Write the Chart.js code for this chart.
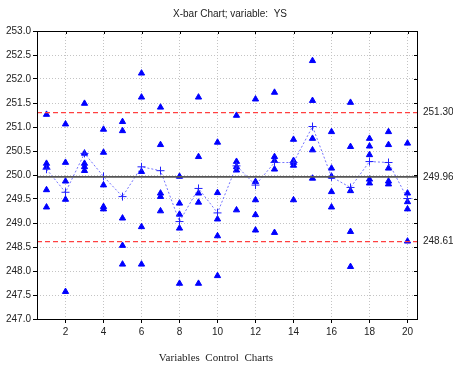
<!DOCTYPE html>
<html>
<head>
<meta charset="utf-8">
<script src="https://cdn.jsdelivr.net/npm/chart.js@4"></script>
<style>
  html, body { margin: 0; padding: 0; background: #fff; }
  #wrap { width: 453px; height: 367px; }
</style>
</head>
<body>
<div id="wrap"><canvas id="chart-xbar"></canvas></div>
<script>
// datos
const muestras = [1, 2, 3, 4, 5, 6, 7, 8, 9, 10, 11, 12, 13, 14, 15, 16, 17, 18, 19, 20];

const observaciones = [
    [251.26, 250.24, 250.17, 249.69, 249.33],
    [251.06, 250.26, 249.87, 249.49, 247.57],
    [251.49, 250.45, 250.24, 250.17, 250.09],
    [250.95, 250.47, 249.79, 249.34, 249.29],
    [251.11, 250.92, 249.10, 248.53, 248.14],
    [252.12, 251.62, 250.07, 248.92, 248.14],
    [251.41, 250.63, 249.62, 249.55, 249.25],
    [249.97, 249.41, 249.18, 248.89, 247.74],
    [251.62, 250.38, 249.62, 249.43, 247.74],
    [250.68, 249.63, 249.08, 248.73, 247.90],
    [251.24, 250.28, 250.17, 250.10, 249.27],
    [251.58, 249.86, 249.48, 249.17, 248.85],
    [251.72, 250.38, 250.30, 250.12, 248.80],
    [250.74, 250.30, 250.26, 250.20, 249.48],
    [252.38, 251.55, 250.76, 250.52, 249.93],
    [250.90, 250.14, 249.97, 249.65, 249.33],
    [251.51, 250.59, 249.67, 248.82, 248.09],
    [250.76, 250.60, 250.42, 249.91, 249.83],
    [250.90, 250.63, 250.14, 249.87, 249.81],
    [250.66, 249.62, 249.44, 249.29, 248.62]
];

const medias = [250.12, 249.64, 250.45, 249.97, 249.55, 250.17, 250.09, 249.03, 249.72, 249.21,
                250.19, 249.79, 250.26, 250.26, 251.01, 249.96, 249.74, 250.28, 250.26, 249.51];

const limiteSup = 251.30;
const lineaCentral = 249.96;
const limiteInf = 248.61;

const ticksX = [2, 4, 6, 8, 10, 12, 14, 16, 18, 20];
const rangoX = [0.5, 20.5];
const rangoY = [247.0, 253.0];

// puntos de cada observacion
const puntosObs = [];
observaciones.forEach((grupo, i) => {
    grupo.forEach(v => puntosObs.push({ x: muestras[i], y: v }));
});
const puntosMedia = muestras.map((m, i) => ({ x: m, y: medias[i] }));

function lineaHorizontal(valor) {
    return [{ x: rangoX[0], y: valor }, { x: rangoX[1], y: valor }];
}

// textos, marco, marcas arriba/derecha y etiquetas de los limites
const decoracion = {
    id: 'decoracion',
    afterDraw(chart) {
        const ctx = chart.ctx;
        const area = chart.chartArea;
        const x = chart.scales.x;
        const y = chart.scales.y;
        ctx.save();
        ctx.strokeStyle = '#000';
        ctx.lineWidth = 1;
        ctx.strokeRect(area.left + 0.5, area.top + 0.5, area.right - area.left, area.bottom - area.top);

        ctx.beginPath();
        x.ticks.forEach(t => {
            const px = Math.round(x.getPixelForValue(t.value)) + 0.5;
            ctx.moveTo(px, area.top);
            ctx.lineTo(px, area.top + 3);
        });
        y.ticks.forEach(t => {
            const py = Math.round(y.getPixelForValue(t.value)) + 0.5;
            ctx.moveTo(area.right, py);
            ctx.lineTo(area.right - 3, py);
        });
        ctx.stroke();

        ctx.fillStyle = '#222';
        ctx.font = '10px "Liberation Sans", Arial, sans-serif';
        ctx.textBaseline = 'middle';
        ctx.textAlign = 'left';
        [limiteSup, lineaCentral, limiteInf].forEach(v => {
            ctx.fillText(v.toFixed(2), area.right + 6, y.getPixelForValue(v));
        });

        ctx.textAlign = 'center';
        ctx.fillText('X-bar Chart; variable:  YS', 230, 14);

        ctx.font = '11px "Liberation Serif", "Times New Roman", serif';
        ctx.fillText('Variables  Control  Charts', 216, 358);
        ctx.restore();
    }
};

new Chart(document.getElementById('chart-xbar').getContext('2d'), {
    type: 'scatter',
    data: {
        datasets: [
            {
                label: 'UCL',
                type: 'line',
                data: lineaHorizontal(limiteSup),
                borderColor: '#ff4040',
                borderWidth: 1.3,
                borderDash: [5, 3],
                pointRadius: 0
            },
            {
                label: 'LCL',
                type: 'line',
                data: lineaHorizontal(limiteInf),
                borderColor: '#ff4040',
                borderWidth: 1.3,
                borderDash: [5, 3],
                pointRadius: 0
            },
            {
                label: 'Center',
                type: 'line',
                data: lineaHorizontal(lineaCentral),
                borderColor: '#555',
                borderWidth: 1.6,
                pointRadius: 0
            },
            {
                label: 'Medias',
                type: 'line',
                data: puntosMedia,
                borderColor: 'rgba(70, 70, 255, 0.75)',
                borderWidth: 1,
                borderDash: [2, 2],
                pointStyle: 'cross',
                pointRadius: 4,
                pointBorderColor: '#2020ff',
                pointBorderWidth: 1,
                tension: 0
            },
            {
                label: 'Observaciones',
                data: puntosObs,
                pointStyle: 'triangle',
                pointRadius: 3.6,
                backgroundColor: '#0000ff',
                borderColor: '#0000ff',
                borderWidth: 1
            }
        ]
    },
    options: {
        responsive: true,
        maintainAspectRatio: false,
        animation: false,
        layout: { padding: { top: 31, right: 36, left: 0, bottom: 0 } },
        plugins: {
            legend: { display: false },
            tooltip: { enabled: false }
        },
        scales: {
            x: {
                type: 'linear',
                min: rangoX[0],
                max: rangoX[1],
                afterBuildTicks: scale => { scale.ticks = ticksX.map(v => ({ value: v })); },
                afterFit: scale => { scale.height = 48; },
                border: { display: false, dash: [1, 2] },
                grid: { color: '#c4c4c4', tickLength: 4, tickColor: '#000' },
                ticks: {
                    color: '#222',
                    padding: 3,
                    maxRotation: 0,
                    font: { family: '"Liberation Sans", Arial, sans-serif', size: 10 }
                }
            },
            y: {
                min: rangoY[0],
                max: rangoY[1],
                afterFit: scale => { scale.width = 37; },
                border: { display: false, dash: [1, 2] },
                grid: { color: '#c4c4c4', tickLength: 4, tickColor: '#000' },
                ticks: {
                    stepSize: 0.5,
                    color: '#222',
                    padding: 2,
                    callback: v => v.toFixed(1),
                    font: { family: '"Liberation Sans", Arial, sans-serif', size: 10 }
                }
            }
        }
    },
    plugins: [decoracion]
});
</script>
</body>
</html>
